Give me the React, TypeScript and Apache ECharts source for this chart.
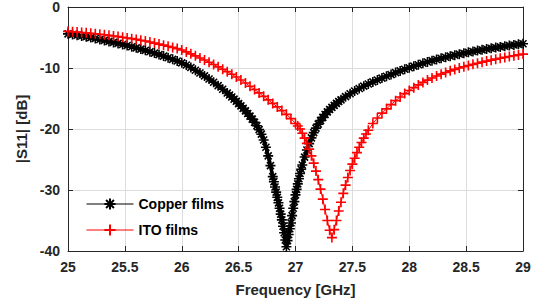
import React, { useEffect, useRef } from "react";
import * as echarts from "echarts";

// Copper films: frequency samples (GHz) — denser around the resonance
const copperFreq = [
  25.0, 25.04, 25.08, 25.12, 25.16, 25.2, 25.24, 25.28, 25.32, 25.36,
  25.4, 25.44, 25.48, 25.52, 25.56, 25.6, 25.64, 25.68, 25.72, 25.76,
  25.8, 25.84, 25.88, 25.92, 25.96, 26.0, 26.04, 26.08, 26.12, 26.16,
  26.2, 26.24, 26.28, 26.32, 26.36, 26.4,
  26.42, 26.44, 26.46, 26.48, 26.5, 26.52, 26.54, 26.56, 26.58, 26.6,
  26.62, 26.64, 26.66, 26.68, 26.7, 26.72, 26.74, 26.76, 26.78, 26.8,
  26.81, 26.82, 26.83, 26.84, 26.85, 26.86, 26.87, 26.88, 26.89, 26.9,
  26.91, 26.92, 26.93, 26.94, 26.95, 26.96, 26.97, 26.98, 26.99, 27.0,
  27.01, 27.02, 27.03, 27.04, 27.05,
  27.06, 27.08, 27.1, 27.12, 27.14, 27.16, 27.18, 27.2, 27.22, 27.24,
  27.26, 27.28, 27.3, 27.32, 27.34, 27.36, 27.38, 27.4,
  27.44, 27.48, 27.52, 27.56, 27.6, 27.64, 27.68, 27.72, 27.76, 27.8,
  27.84, 27.88, 27.92, 27.96, 28.0, 28.04, 28.08, 28.12, 28.16, 28.2,
  28.24, 28.28, 28.32, 28.36, 28.4, 28.44, 28.48, 28.52, 28.56, 28.6,
  28.64, 28.68, 28.72, 28.76, 28.8, 28.84, 28.88, 28.92, 28.96, 29.0,
];

const copperS11 = [
  -4.4, -4.51, -4.63, -4.75, -4.88, -5.02, -5.17, -5.32, -5.48, -5.64,
  -5.8, -5.97, -6.14, -6.32, -6.51, -6.7, -6.9, -7.11, -7.33, -7.56,
  -7.8, -8.05, -8.31, -8.58, -8.86, -9.15, -9.5, -9.92, -10.36, -10.82,
  -11.3, -11.8, -12.33, -12.89, -13.48, -14.1,
  -14.42, -14.76, -15.1, -15.46, -15.83, -16.21, -16.61, -17.02, -17.45, -17.9,
  -18.38, -18.9, -19.47, -20.1, -20.85, -21.8, -23.0, -24.4, -26.0, -27.8,
  -28.65, -29.5, -30.35, -31.2, -32.1, -33.0, -33.95, -34.9, -35.95, -37.0,
  -38.2, -39.3, -38.3, -37.3, -36.35, -35.4, -34.2, -33.0, -31.9, -30.8,
  -29.9, -29.0, -28.15, -27.3, -26.6,
  -25.9, -24.6, -23.45, -22.4, -21.45, -20.6, -19.85, -19.2, -18.62, -18.1,
  -17.63, -17.2, -16.81, -16.45, -16.12, -15.8, -15.5, -15.22,
  -14.7, -14.22, -13.78, -13.37, -12.98, -12.62, -12.28, -11.96, -11.65, -11.36,
  -11.08, -10.75, -10.48, -10.21, -9.95, -9.7, -9.46, -9.23, -9.01, -8.8,
  -8.6, -8.41, -8.23, -8.06, -7.89, -7.73, -7.58, -7.43, -7.29, -7.15,
  -7.02, -6.89, -6.77, -6.65, -6.54, -6.43, -6.32, -6.22, -6.12, -6.02,
];

// ITO films
const itoFreq = [
  25.0, 25.04, 25.08, 25.12, 25.16, 25.2, 25.24, 25.28, 25.32, 25.36,
  25.4, 25.44, 25.48, 25.52, 25.56, 25.6, 25.64, 25.68, 25.72, 25.76,
  25.8, 25.84, 25.88, 25.92, 25.96, 26.0, 26.04, 26.08, 26.12, 26.16,
  26.2, 26.24, 26.28, 26.32, 26.36, 26.4, 26.44, 26.48, 26.52, 26.56,
  26.6, 26.64, 26.68, 26.72, 26.76, 26.8, 26.84, 26.88, 26.92, 26.96,
  27.0,
  27.02, 27.04, 27.06, 27.08, 27.1, 27.12, 27.14, 27.16, 27.18, 27.2,
  27.22, 27.24, 27.26, 27.28, 27.3, 27.32, 27.34, 27.36, 27.38, 27.4,
  27.42, 27.44, 27.46, 27.48, 27.5, 27.52, 27.54, 27.56, 27.58, 27.6,
  27.62, 27.64,
  27.68, 27.72, 27.76, 27.8, 27.84, 27.88, 27.92, 27.96, 28.0, 28.04,
  28.08, 28.12, 28.16, 28.2, 28.24, 28.28, 28.32, 28.36, 28.4, 28.44,
  28.48, 28.52, 28.56, 28.6, 28.64, 28.68, 28.72, 28.76, 28.8, 28.84,
  28.88, 28.92, 28.96, 29.0,
];

const itoS11 = [
  -4.0, -4.05, -4.11, -4.17, -4.24, -4.31, -4.39, -4.47, -4.56, -4.65,
  -4.75, -4.85, -4.96, -5.07, -5.19, -5.31, -5.44, -5.58, -5.74, -5.92,
  -6.08, -6.25, -6.43, -6.62, -6.82, -7.05, -7.36, -7.68, -8.01, -8.35,
  -8.7, -9.06, -9.43, -9.81, -10.2, -10.6, -11.02, -11.48, -11.96, -12.46,
  -12.98, -13.52, -14.08, -14.65, -15.22, -15.8, -16.38, -16.98, -17.6, -18.3,
  -19.1,
  -19.52, -20.0, -20.7, -21.5, -22.35, -23.3, -24.4, -25.6, -26.9, -28.3,
  -29.85, -31.5, -33.2, -35.0, -36.6, -37.8, -36.5, -35.0, -33.45, -32.0,
  -30.55, -29.2, -27.95, -26.8, -25.75, -24.8, -23.88, -23.0, -22.22, -21.5,
  -20.83, -20.2,
  -19.1, -18.2, -17.4, -16.7, -16.0, -15.35, -14.75, -14.2, -13.7, -13.22,
  -12.77, -12.36, -11.98, -11.63, -11.31, -11.01, -10.73, -10.47, -10.23, -10.0,
  -9.79, -9.59, -9.4, -9.22, -9.04, -8.87, -8.71, -8.55, -8.4, -8.26,
  -8.12, -7.98, -7.85, -7.72,
];

const seriesNames = ["Copper films", "ITO films"];
const xRange = [25, 29];
const yRange = [-40, 0];

const FONT = "'Liberation Sans', Arial, Helvetica, sans-serif";
const AXIS_COLOR = "#262626";
const GRID_COLOR = "#dcdcdc";

const STAR = "path://M5 0L5 10M0 5L10 5M1.5 1.5L8.5 8.5M8.5 1.5L1.5 8.5";
const PLUS = "path://M5 0L5 10M0 5L10 5";

export default function App() {
  const ref = useRef<HTMLDivElement>(null);

  useEffect(() => {
    document.body.style.margin = "0";
    if (!ref.current) return;
    const chart = echarts.init(ref.current, undefined, { renderer: "svg" });

    const baseAxisLine = { show: true, onZero: false, lineStyle: { color: AXIS_COLOR, width: 1 } };
    const baseTick = { show: true, inside: true, length: 5, lineStyle: { color: AXIS_COLOR } };
    const labelStyle = { color: AXIS_COLOR, fontFamily: FONT, fontWeight: "bold" as const, fontSize: 14 };

    chart.setOption({
      animation: false,
      backgroundColor: "#ffffff",
      grid: { left: 68, right: 12, top: 7, bottom: 55, containLabel: false },
      legend: {
        data: seriesNames,
        orient: "vertical",
        left: 86,
        top: 197,
        itemWidth: 47,
        itemHeight: 14,
        itemGap: 12,
        padding: 0,
        lineStyle: { width: 1 },
        textStyle: { color: "#000", fontFamily: FONT, fontWeight: "bold", fontSize: 14 },
      },
      xAxis: [
        {
          type: "value",
          min: xRange[0],
          max: xRange[1],
          interval: 0.5,
          position: "bottom",
          axisLine: baseAxisLine,
          axisTick: baseTick,
          axisLabel: { ...labelStyle, margin: 9 },
          splitLine: { show: true, lineStyle: { color: GRID_COLOR, width: 1 } },
          name: "Frequency [GHz]",
          nameLocation: "middle",
          nameGap: 31,
          nameTextStyle: { color: AXIS_COLOR, fontFamily: FONT, fontWeight: "bold", fontSize: 15 },
        },
        {
          type: "value",
          min: xRange[0],
          max: xRange[1],
          interval: 0.5,
          position: "top",
          axisLine: baseAxisLine,
          axisTick: baseTick,
          axisLabel: { show: false },
          splitLine: { show: false },
        },
      ],
      yAxis: [
        {
          type: "value",
          min: yRange[0],
          max: yRange[1],
          interval: 10,
          position: "left",
          axisLine: baseAxisLine,
          axisTick: baseTick,
          axisLabel: { ...labelStyle, margin: 8 },
          splitLine: { show: true, lineStyle: { color: GRID_COLOR, width: 1 } },
          name: "|S11| [dB]",
          nameLocation: "middle",
          nameGap: 38,
          nameTextStyle: { color: AXIS_COLOR, fontFamily: FONT, fontWeight: "bold", fontSize: 15 },
        },
        {
          type: "value",
          min: yRange[0],
          max: yRange[1],
          interval: 10,
          position: "right",
          axisLine: baseAxisLine,
          axisTick: baseTick,
          axisLabel: { show: false },
          splitLine: { show: false },
        },
      ],
      series: [
        {
          name: seriesNames[0],
          type: "line",
          xAxisIndex: 0,
          yAxisIndex: 0,
          data: copperFreq.map((f, i) => [f, copperS11[i]]),
          symbol: STAR,
          symbolSize: 10,
          showSymbol: true,
          lineStyle: { color: "#000000", width: 3.5 },
          itemStyle: { color: "#000000", borderColor: "#000000", borderWidth: 1.6 },
        },
        {
          name: seriesNames[1],
          type: "line",
          xAxisIndex: 0,
          yAxisIndex: 0,
          data: itoFreq.map((f, i) => [f, itoS11[i]]),
          symbol: PLUS,
          symbolSize: 10,
          showSymbol: true,
          lineStyle: { color: "#ff0000", width: 1 },
          itemStyle: { color: "#ff0000", borderColor: "#ff0000", borderWidth: 1.6 },
        },
      ],
    });

    return () => chart.dispose();
  }, []);

  return <div ref={ref} style={{ width: 535, height: 306 }} />;
}
